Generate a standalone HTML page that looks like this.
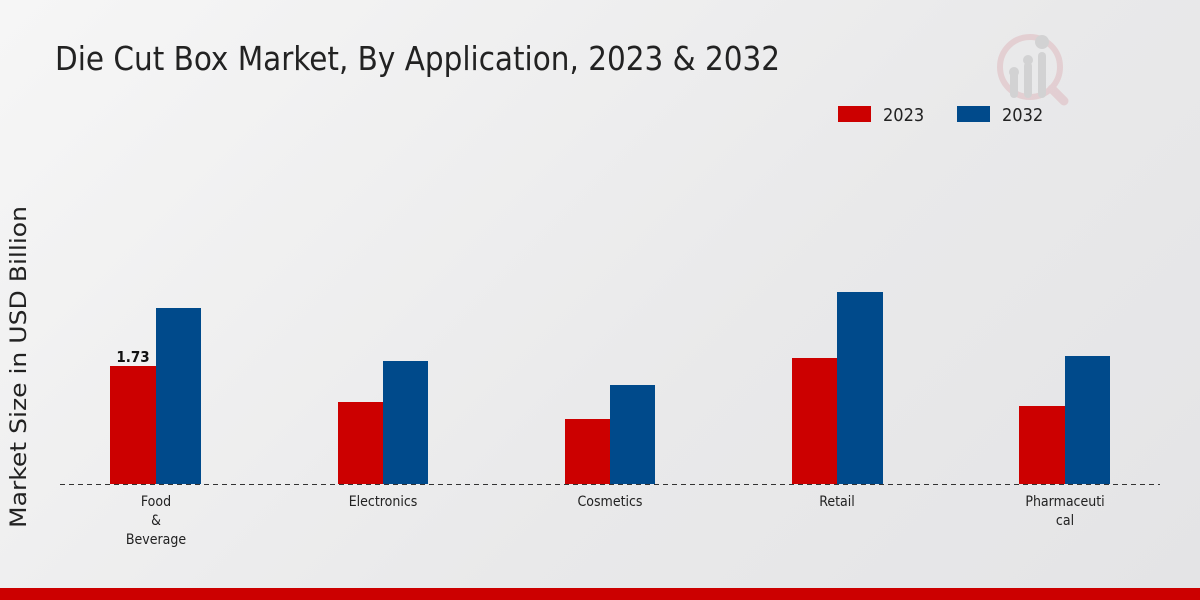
<!DOCTYPE html>
<html><head><meta charset="utf-8"><style>
html,body{margin:0;padding:0}
body{width:1200px;height:600px;overflow:hidden;background:linear-gradient(135deg,#f6f6f6 0%,#e9e9ea 60%,#e4e4e6 100%);font-family:"DejaVu Sans Condensed","DejaVu Sans","Liberation Sans",sans-serif;position:relative}
</style></head><body>
<svg width="1200" height="600" style="position:absolute;left:0;top:0">
<text x="55" y="70" font-size="33" fill="#222" font-family="DejaVu Sans Condensed, DejaVu Sans, sans-serif" textLength="725" lengthAdjust="spacingAndGlyphs">Die Cut Box Market, By Application, 2023 &amp; 2032</text>
<g opacity="0.35">
<circle cx="1030" cy="67" r="30" fill="none" stroke="#d9a0a6" stroke-width="6"/>
<line x1="1052" y1="89" x2="1064" y2="101" stroke="#d9a0a6" stroke-width="9" stroke-linecap="round"/>
<rect x="1010" y="70" width="8" height="28" rx="4" fill="#aaa"/>
<rect x="1024" y="62" width="8" height="36" rx="4" fill="#aaa"/>
<rect x="1038" y="52" width="8" height="46" rx="4" fill="#aaa"/>
<circle cx="1014" cy="72" r="5" fill="#aaa"/><circle cx="1028" cy="60" r="5" fill="#aaa"/><circle cx="1042" cy="42" r="7" fill="#aaa"/>
</g>
<rect x="838" y="106" width="33" height="16" fill="#cc0000"/>
<text x="883" y="121" font-size="18" fill="#222">2023</text>
<rect x="957" y="106" width="33" height="16" fill="#004a8b"/>
<text x="1002" y="121" font-size="18" fill="#222">2032</text>
<text transform="translate(26,367) rotate(-90)" text-anchor="middle" font-size="22" fill="#222" font-family="DejaVu Sans, sans-serif" textLength="322" lengthAdjust="spacingAndGlyphs">Market Size in USD Billion</text>
<rect x="110" y="366" width="46" height="118" fill="#cc0000"/>
<rect x="156" y="308" width="45" height="176" fill="#004a8b"/>
<rect x="338" y="402" width="45" height="82" fill="#cc0000"/>
<rect x="383" y="361" width="45" height="123" fill="#004a8b"/>
<rect x="565" y="419" width="45" height="65" fill="#cc0000"/>
<rect x="610" y="385" width="45" height="99" fill="#004a8b"/>
<rect x="792" y="358" width="45" height="126" fill="#cc0000"/>
<rect x="837" y="292" width="46" height="192" fill="#004a8b"/>
<rect x="1019" y="406" width="46" height="78" fill="#cc0000"/>
<rect x="1065" y="356" width="45" height="128" fill="#004a8b"/>
<line x1="60" y1="484.5" x2="1160" y2="484.5" stroke="#333" stroke-width="1" stroke-dasharray="5,4"/>
<text x="133" y="362" text-anchor="middle" font-size="15" font-weight="bold" fill="#111">1.73</text>
<g font-size="14" fill="#222" text-anchor="middle">
<text x="156" y="506">Food</text><text x="156" y="525">&amp;</text><text x="156" y="544">Beverage</text>
<text x="383" y="506">Electronics</text>
<text x="610" y="506">Cosmetics</text>
<text x="837" y="506">Retail</text>
<text x="1065" y="506">Pharmaceuti</text><text x="1065" y="525">cal</text>
</g>
<rect x="0" y="588" width="1200" height="12" fill="#cc0000"/>
</svg>
</body></html>
